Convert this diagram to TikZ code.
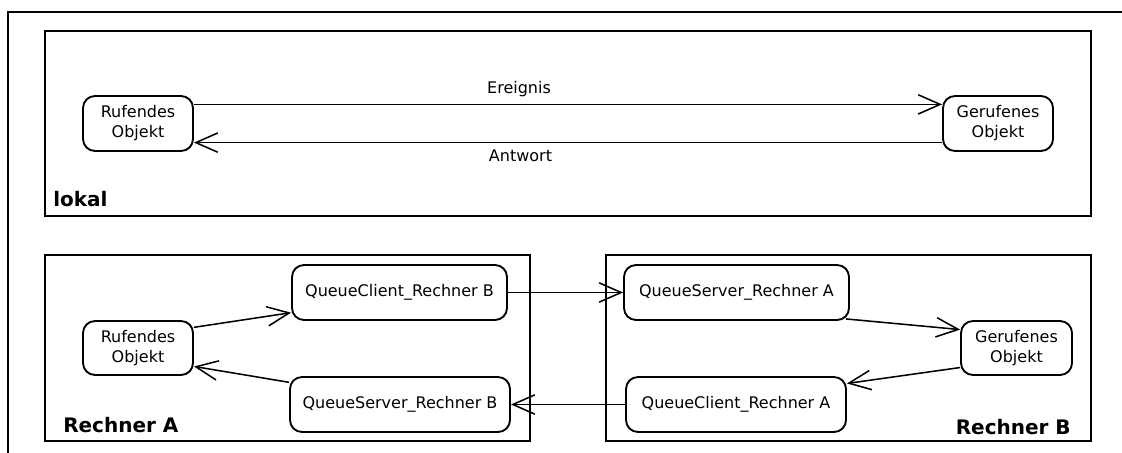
\documentclass[tikz,border=0pt]{standalone}
\usepackage{fontspec}
\setmainfont{DejaVu Sans}
\usetikzlibrary{arrows.meta,calc}
\tikzset{
  obj/.style={draw, line width=1.4pt, rounded corners=9pt, align=center,
    inner sep=0pt, font=\fontsize{12}{15}\selectfont},
  area/.style={draw, line width=1.4pt},
  arealabel/.style={font=\fontsize{15}{18}\selectfont\bfseries, inner sep=0pt},
  msg/.style={line width=1.15pt, -{Straight Barb[length=16.5pt,width=14.5pt,line width=1.15pt]}},
  msglabel/.style={font=\fontsize{12}{14}\selectfont, inner sep=0pt}
}
\begin{document}
\begin{tikzpicture}[x=0.75pt,y=-0.75pt]
\useasboundingbox (0,0) rectangle (1122,453);
% outer frame (top and left edges only)
\draw[line width=1.4pt] (1122,12) -- (8,12) -- (8,453);

% local call
\draw[area] (45,31) rectangle (1091,216);
\node[arealabel, anchor=base west] (lokal) at (53,206) {lokal};
\node[obj, minimum width=82.5pt, minimum height=41.25pt] (ruf1) at (138,123.5) {Rufendes\\Objekt};
\node[obj, minimum width=82.5pt, minimum height=41.25pt] (ger1) at (998,123.5) {Gerufenes\\Objekt};
\draw[msg] ($(ruf1.north east)!0.164!(ruf1.south east)$) -- ($(ger1.north west)!0.164!(ger1.south west)$);
\draw[msg] ($(ger1.north west)!0.836!(ger1.south west)$) -- ($(ruf1.north east)!0.836!(ruf1.south east)$);
\node[msglabel] (ereignis) at (519,89.5) {Ereignis};
\node[msglabel] (antwort) at (520.5,156) {Antwort};

% computer A
\draw[area] (45,255) rectangle (530,441);
\node[arealabel, anchor=base west] (rechnerA) at (63,432) {Rechner A};
\node[obj, minimum width=82.5pt, minimum height=40.5pt] (ruf2) at (138,348) {Rufendes\\Objekt};
\node[obj, minimum width=161.25pt, minimum height=41.25pt] (qcb) at (399.5,292.5) {QueueClient\_Rechner B};
\node[obj, minimum width=165pt, minimum height=41.25pt] (qsb) at (400,404.5) {QueueServer\_Rechner B};

% computer B
\draw[area] (606,255) rectangle (1091,441);
\node[arealabel, anchor=base east] (rechnerB) at (1071,434) {Rechner B};
\node[obj, minimum width=168.75pt, minimum height=41.25pt] (qsa) at (736.5,292.5) {QueueServer\_Rechner A};
\node[obj, minimum width=83.25pt, minimum height=40.5pt] (ger2) at (1016.5,348) {Gerufenes\\Objekt};
\node[obj, minimum width=165pt, minimum height=41.25pt] (qca) at (736,404.5) {QueueClient\_Rechner A};

% message path
\draw[msg] ($(ruf2.north east)!0.13!(ruf2.south east)$) -- ($(qcb.north west)!0.855!(qcb.south west)$);
\draw[msg] (qcb.east) -- (qsa.west);
\draw[msg] ($(qsa.south east)+(-4,-2)$) -- ($(ger2.north west)!0.17!(ger2.south west)$);
\draw[msg] ($(ger2.north west)!0.85!(ger2.south west)$) -- ($(qca.north east)!0.13!(qca.south east)$);
\draw[msg] (qca.west) -- (qsb.east);
\draw[msg] ($(qsb.north west)!0.11!(qsb.south west)$) -- ($(ruf2.north east)!0.83!(ruf2.south east)$);
\end{tikzpicture}
\end{document}
